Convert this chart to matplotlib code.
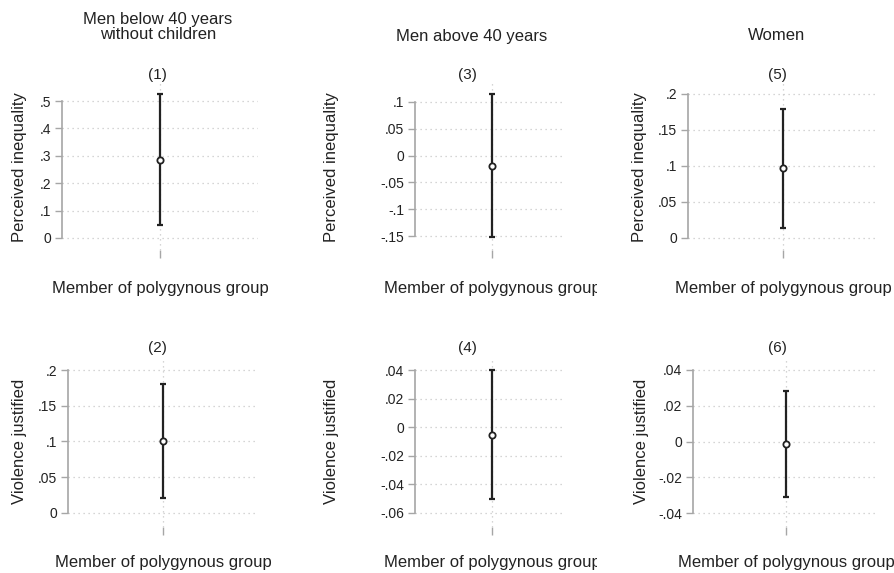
import numpy as np
import matplotlib.pyplot as plt
from matplotlib.patches import Rectangle

plt.rcParams['font.family'] = ['Liberation Sans', 'DejaVu Sans']

W, H = 895, 573

# coefficient and 95% CI for each regression (1)-(6)
models = ['(1)', '(2)', '(3)', '(4)', '(5)', '(6)']
coef = [0.285, 0.100, -0.020, -0.0055, 0.097, -0.0015]
ci_low = [0.047, 0.021, -0.152, -0.050, 0.014, -0.0313]
ci_high = [0.525, 0.180, 0.114, 0.040, 0.179, 0.0285]
outcomes = ['Perceived inequality', 'Violence justified']
groups = ['Men below 40 years\nwithout children', 'Men above 40 years', 'Women']
xlabel = 'Member of polygynous group'

yticks = [
    [0, .1, .2, .3, .4, .5],
    [0, .05, .1, .15, .2],
    [-.15, -.1, -.05, 0, .05, .1],
    [-.06, -.04, -.02, 0, .02, .04],
    [0, .05, .1, .15, .2],
    [-.04, -.02, 0, .02, .04],
]
ylims = [(-0.044, 0.566), (-0.0196, 0.2168), (-0.176, 0.1354),
         (-0.0698, 0.0484), (-0.0167, 0.215), (-0.0478, 0.0467)]

# panel boxes in pixels: left, right, top, bottom
boxes = [(62, 258, 83, 250), (68, 255, 358, 527),
         (415, 565, 83, 250), (415, 565, 358, 527),
         (688, 875, 83, 250), (693, 878, 358, 527)]
point_x = [160, 163, 492, 492, 783, 786]
ylab_x = [20, 20, 332, 332, 640, 642]
sub_x = [157, 157, 467, 467, 777, 777]
title_x = [158, 472, 777]


def fmt(v):
    if abs(v) < 1e-12:
        return '0'
    s = ('%g' % v)
    return s.replace('0.', '.')


fig = plt.figure(figsize=(W / 100, H / 100), dpi=100)
# the middle column's x labels run past the panel edge and get cut there
cut = Rectangle((0, 0), 597, H, transform=None, visible=False)
fig.add_artist(cut)

for i in range(6):
    l, r, t, b = boxes[i]
    ax = fig.add_axes([l / W, 1 - b / H, (r - l) / W, (b - t) / H])
    ax.set_xlim(l, r)
    ax.set_ylim(*ylims[i])
    px = point_x[i]

    ax.vlines(px, ci_low[i], ci_high[i], color='#222222', lw=1.6, zorder=3)
    for yy in (ci_low[i], ci_high[i]):
        ax.hlines(yy, px - 3, px + 3, color='#222222', lw=1.6, zorder=3)
    ax.plot(px, coef[i], 'o', mfc='white', mec='#222222', mew=1.3, ms=4.5, zorder=4)

    for yt in yticks[i]:
        ax.axhline(yt, color='#c8c8c8', lw=0.9, ls=(0, (1, 3)), zorder=1)
    ax.axvline(px, color='#c8c8c8', lw=0.9, ls=(0, (1, 3)), zorder=1)

    for s in ['top', 'right', 'bottom']:
        ax.spines[s].set_visible(False)
    ax.spines['left'].set_color('#a6a6a6')
    ax.spines['left'].set_linewidth(1.2)
    ax.spines['left'].set_bounds(min(yticks[i]), max(yticks[i]))

    ax.set_yticks(yticks[i])
    ax.set_yticklabels([fmt(v) for v in yticks[i]])
    ax.set_xticks([px])
    ax.set_xticklabels([''])
    ax.tick_params(axis='y', length=5, width=1.0, color='#a6a6a6',
                   labelsize=10, labelcolor='#222222', pad=3)
    ax.tick_params(axis='x', length=6, width=1.0, color='#a6a6a6', pad=0)
    ax.patch.set_alpha(0)

    row = i % 2
    ty = 75 if row == 0 else 348
    fig.text(sub_x[i] / W, 1 - ty / H, models[i], ha='center', va='center',
             fontsize=11, color='#222222')
    yl_c = 167 if row == 0 else 441
    fig.text(ylab_x[i] / W, 1 - yl_c / H, outcomes[row], rotation=90,
             ha='center', va='center', fontsize=12, color='#222222')
    xy = 288 if row == 0 else 562
    col = i // 2
    txt = fig.text(px / W, 1 - xy / H, xlabel, ha='center', va='center',
                   fontsize=12, color='#222222')
    if col == 1:
        txt.set_clip_path(cut)
        txt.set_clip_on(True)

fig.text(title_x[0] / W, 1 - 27 / H, groups[0], ha='center', va='center',
         fontsize=12, color='#222222', linespacing=1.05)
fig.text(title_x[1] / W, 1 - 36 / H, groups[1], ha='center', va='center',
         fontsize=12, color='#222222')
fig.text(title_x[2] / W, 1 - 36 / H, groups[2], ha='center', va='center',
         fontsize=12, color='#222222')

fig.savefig('out.png', dpi=100, facecolor='white')
